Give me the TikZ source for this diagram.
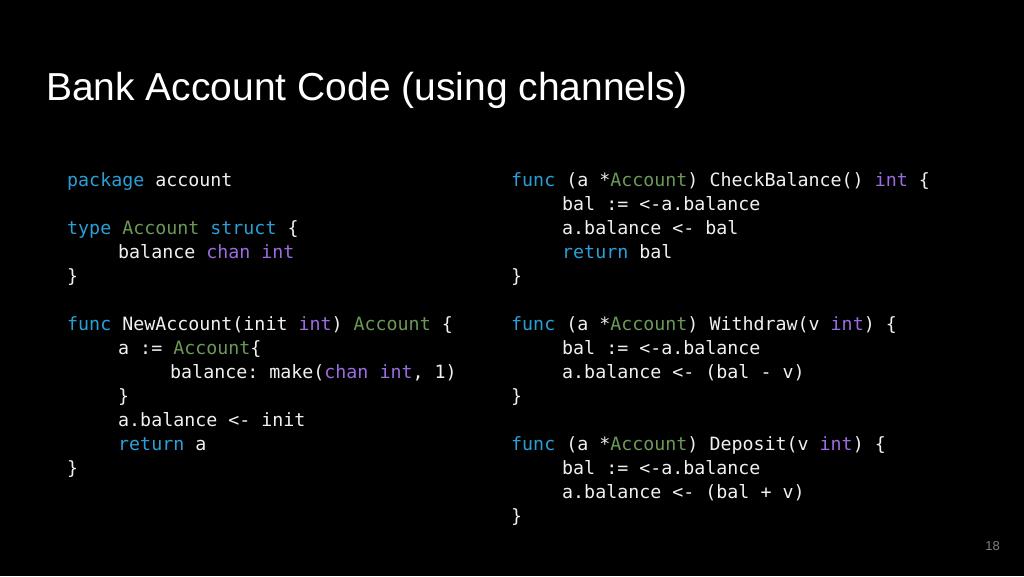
\documentclass[tikz,border=0pt]{standalone}
\usepackage{fontspec}
\setmainfont{Liberation Sans}
\setmonofont{DejaVu Sans Mono}
\definecolor{kwblue}{HTML}{2A9FD6}
\definecolor{typurple}{HTML}{9B6BDF}
\definecolor{idgreen}{HTML}{6A9955}
\definecolor{codewhite}{HTML}{F0F0F0}
\newcommand{\kw}[1]{\textcolor{kwblue}{#1}}
\newcommand{\ty}[1]{\textcolor{typurple}{#1}}
\newcommand{\gr}[1]{\textcolor{idgreen}{#1}}
\tikzset{
  code/.style={anchor=base west, inner sep=0pt, text=codewhite,
    font=\fontsize{18.3}{20}\selectfont\ttfamily}
}
\begin{document}
\begin{tikzpicture}[x=1pt,y=-1pt]
    %Bakgrunn
        \fill[black] (0,0) rectangle (1024,576);
        \useasboundingbox (0,0) rectangle (1024,576);
        \node[anchor=base west, inner sep=0pt, text=white, font=\fontsize{39}{42}\selectfont] (title) at (46,100) {Bank Account Code (using channels)};

    %Venstre kolonne
        \node[code] (p1) at (67,186) {\kw{package} account};
        \node[code] (t1) at (67,234) {\kw{type} \gr{Account} \kw{struct} \{};
        \node[code] (t2) at (118,258) {balance \ty{chan} \ty{int}};
        \node[code] (t3) at (67,282) {\}};
        \node[code] (n1) at (67,330) {\kw{func} NewAccount(init \ty{int}) \gr{Account} \{};
        \node[code] (n2) at (118,354) {a := \gr{Account}\{};
        \node[code] (n3) at (170,378) {balance: make(\ty{chan} \ty{int}, 1)};
        \node[code] (n4) at (118,402) {\}};
        \node[code] (n5) at (118,426) {a.balance <- init};
        \node[code] (n6) at (118,450) {\kw{return} a};
        \node[code] (n7) at (67,474) {\}};

    %Hoyre kolonne
        \node[code] (c1) at (511,186) {\kw{func} (a *\gr{Account}) CheckBalance() \ty{int} \{};
        \node[code] (c2) at (562,210) {bal := <-a.balance};
        \node[code] (c3) at (562,234) {a.balance <- bal};
        \node[code] (c4) at (562,258) {\kw{return} bal};
        \node[code] (c5) at (511,282) {\}};
        \node[code] (w1) at (511,330) {\kw{func} (a *\gr{Account}) Withdraw(v \ty{int}) \{};
        \node[code] (w2) at (562,354) {bal := <-a.balance};
        \node[code] (w3) at (562,378) {a.balance <- (bal - v)};
        \node[code] (w4) at (511,402) {\}};
        \node[code] (d1) at (511,450) {\kw{func} (a *\gr{Account}) Deposit(v \ty{int}) \{};
        \node[code] (d2) at (562,474) {bal := <-a.balance};
        \node[code] (d3) at (562,498) {a.balance <- (bal + v)};
        \node[code] (d4) at (511,522) {\}};

        \node[anchor=base east, inner sep=0pt, text=gray, font=\fontsize{13}{15}\selectfont] (page) at (1000,550) {18};
\end{tikzpicture}
\end{document}
